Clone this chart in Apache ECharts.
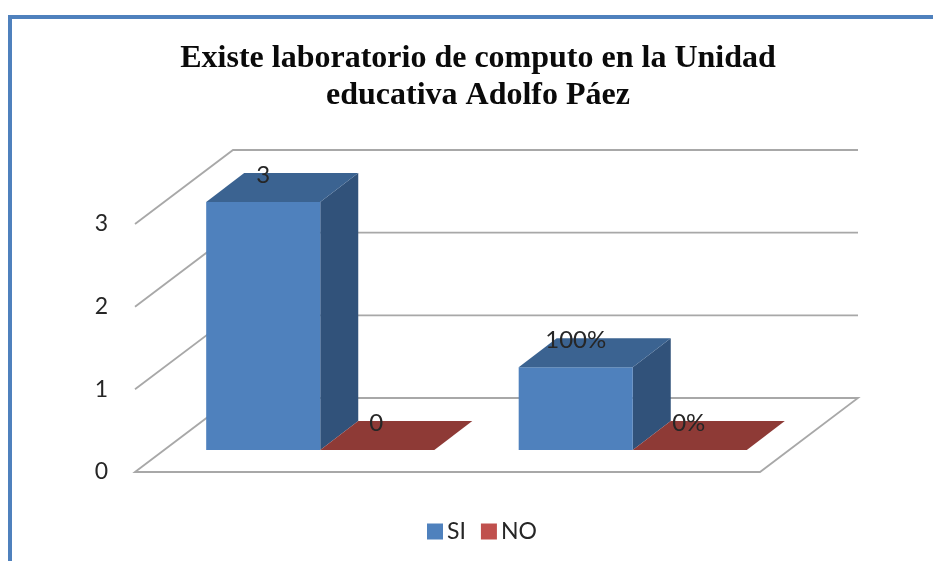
<!DOCTYPE html>
<html>
<head>
<meta charset="utf-8">
<style>html,body{margin:0;padding:0;background:#fff}#c{width:933px;height:561px}</style>
<script src="https://cdn.jsdelivr.net/npm/echarts@6/dist/echarts.min.js"></script>
</head>
<body>
<div id="c"></div>
<script>
var titleLines = ['Existe laboratorio de computo en la Unidad', 'educativa Adolfo Páez'];
var categories = ['Cantidad', 'Porcentaje'];
var siValues = [3, 1];
var noValues = [0, 0];
var siLabels = ['3', '100%'];
var noLabels = ['0', '0%'];
var yTicks = [0, 1, 2, 3];

var chart = echarts.init(document.getElementById('c'), null, {renderer: 'canvas'});
var FLOOR_DX = 98, FLOOR_DY = -74;      // depth of the whole 3D box
var SHIFT_DX = 29, SHIFT_DY = -22;      // where the bars stand on the floor
var BAR_DX = 38, BAR_DY = -29;          // depth of a bar
var BAR_W = 0.365;
var GRID_COLOR = '#a8a8a8';
var TEXT_COLOR = '#262626';

function frameRender(params, api) {
  var v = api.value(0);
  var cs = params.coordSys;
  var y = api.coord([0, v])[1];
  var x0 = cs.x, x1 = cs.x + cs.width;
  if (v === 0) {
    return {type: 'polygon', silent: true,
      shape: {points: [[x0, y], [x0 + FLOOR_DX, y + FLOOR_DY], [x1 + FLOOR_DX, y + FLOOR_DY], [x1, y]]},
      style: {stroke: GRID_COLOR, lineWidth: 1.8, fill: '#ffffff'}};
  }
  return {type: 'polyline', silent: true,
    shape: {points: [[x0, y], [x0 + FLOOR_DX, y + FLOOR_DY], [x1 + FLOOR_DX, y + FLOOR_DY]]},
    style: {stroke: GRID_COLOR, lineWidth: 1.8, fill: null}};
}

function barRender(side, front, topC, sideC, labels) {
  return function (params, api) {
    var cat = api.value(0), val = api.value(1);
    var band = api.size([1, 0])[0];
    var w = band * BAR_W;
    var base = api.coord([cat, 0]);
    var head = api.coord([cat, val]);
    var xL = base[0] + SHIFT_DX + (side === 0 ? -w : 0);
    var xR = xL + w;
    var yB = base[1] + SHIFT_DY;
    var yT = head[1] + SHIFT_DY;
    var kids = [];
    if (yB - yT > 0.5) {
      kids.push({type: 'polygon', shape: {points: [[xR, yT], [xR + BAR_DX, yT + BAR_DY], [xR + BAR_DX, yB + BAR_DY], [xR, yB]]}, style: {fill: sideC}});
      kids.push({type: 'rect', shape: {x: xL, y: yT, width: w, height: yB - yT}, style: {fill: front}});
    }
    kids.push({type: 'polygon', shape: {points: [[xL, yT], [xR, yT], [xR + BAR_DX, yT + BAR_DY], [xL + BAR_DX, yT + BAR_DY]]}, style: {fill: topC}});
    kids.push({type: 'text', z2: 50, style: {x: (xL + xR) / 2 - (side === 1 ? 1 : 0), y: yT - 27, text: labels[cat], fill: TEXT_COLOR,
      font: '24px Lato', align: 'center', verticalAlign: 'middle'}});
    return {type: 'group', children: kids};
  };
}

chart.setOption({
  animation: false,
  backgroundColor: '#ffffff',
  title: {
    text: titleLines.join('\n'), left: 473, top: 35, textAlign: 'center',
    textStyle: {fontFamily: 'Liberation Serif', fontWeight: 'bold', fontSize: 32, lineHeight: 37, color: '#0a0a0a'}
  },
  legend: {
    data: ['SI', 'NO'], left: 422, top: 515, icon: 'rect', itemWidth: 16, itemHeight: 16, itemGap: 15,
    textStyle: {fontFamily: 'Lato', fontSize: 23, color: TEXT_COLOR, padding: [0, 0, 0, -1]}
  },
  grid: {left: 135, top: 224, width: 625, height: 248, containLabel: false},
  xAxis: {type: 'category', data: categories, axisLine: {show: false}, axisTick: {show: false}, axisLabel: {show: false}, splitLine: {show: false}},
  yAxis: {type: 'value', min: 0, max: 3, interval: 1, axisLine: {show: false}, axisTick: {show: false}, splitLine: {show: false},
    axisLabel: {margin: 27, fontFamily: 'Lato', fontSize: 23, color: TEXT_COLOR, padding: [3, 0, 0, 0]}},
  graphic: [{type: 'rect', silent: true, z: -1, shape: {x: 10, y: 17, width: 1200, height: 900},
    style: {fill: null, stroke: '#4f81bd', lineWidth: 4}}],
  series: [
    {type: 'custom', name: 'frame', silent: true, z: 1, renderItem: frameRender, data: yTicks.map(function (t) { return [t]; }), encode: {y: 0}},
    {type: 'custom', name: 'SI', z: 2, itemStyle: {color: '#4f81bd'}, renderItem: barRender(0, '#4f81bd', '#3b6391', '#31527a', siLabels),
      data: siValues.map(function (v, i) { return [i, v]; }), encode: {x: 0, y: 1}},
    {type: 'custom', name: 'NO', z: 3, itemStyle: {color: '#c0504d'}, renderItem: barRender(1, '#c0504d', '#8e3a36', '#7a302d', noLabels),
      data: noValues.map(function (v, i) { return [i, v]; }), encode: {x: 0, y: 1}}
  ]
});
</script>
</body>
</html>
